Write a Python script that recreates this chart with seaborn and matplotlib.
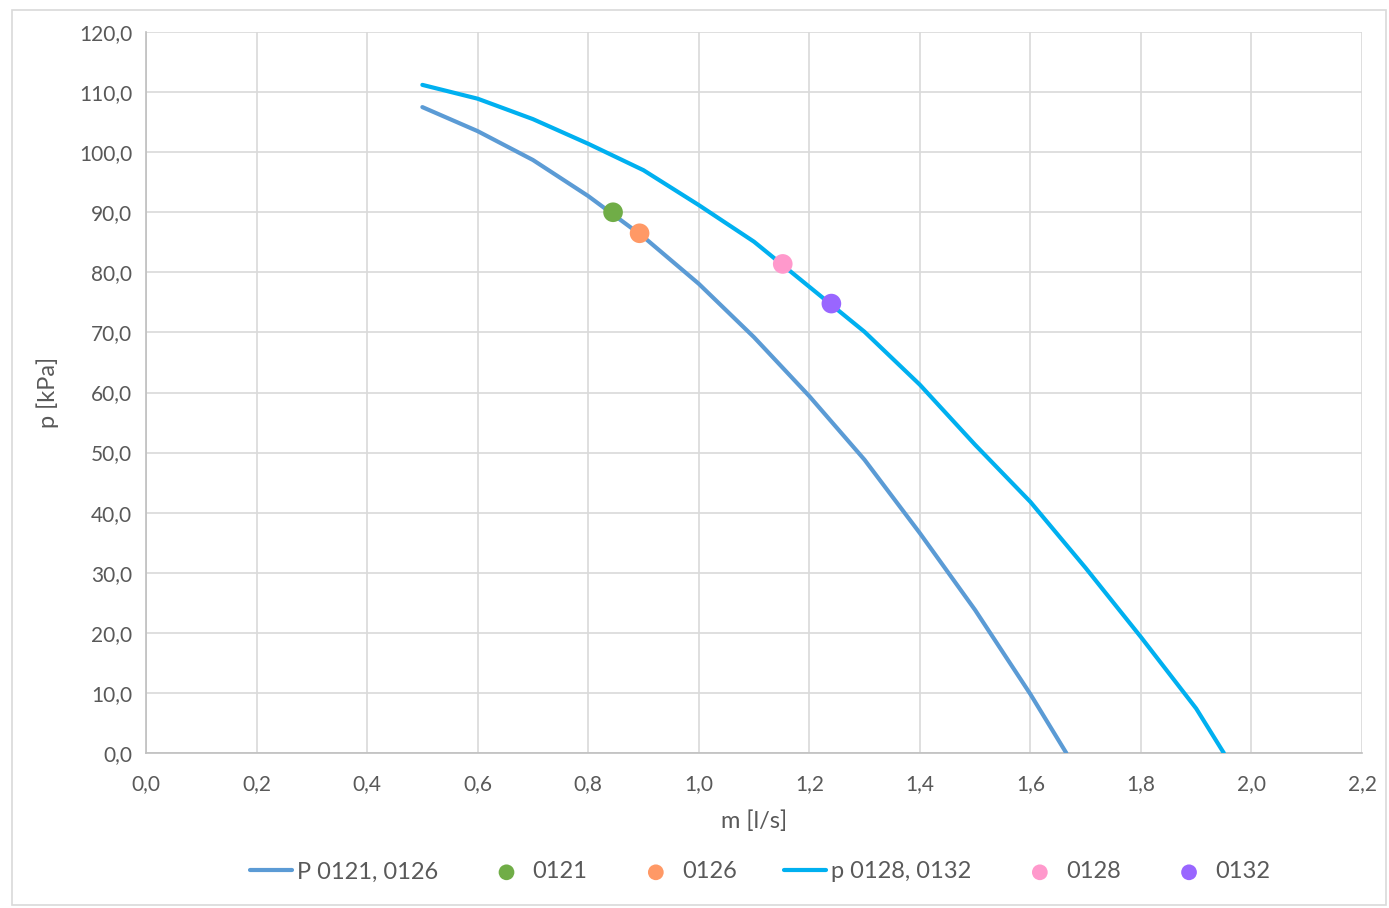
import matplotlib
matplotlib.use("Agg")
import matplotlib.pyplot as plt
import seaborn as sns
import pandas as pd
from matplotlib.ticker import FuncFormatter, MultipleLocator
from matplotlib.patches import Rectangle

sns.set_theme(style="white")
plt.rcParams['font.family'] = ['Lato', 'DejaVu Sans']

# Curve P 0121, 0126
m1 = [0.5, 0.6, 0.7, 0.8, 0.9, 1.0, 1.1, 1.2, 1.3, 1.4, 1.5, 1.6, 1.665]
p1 = [107.5, 103.5, 98.7, 92.7, 85.9, 78.1, 69.2, 59.4, 48.8, 36.6, 23.8, 9.8, 0.0]
# Curve p 0128, 0132
m2 = [0.5, 0.6, 0.7, 0.8, 0.9, 1.0, 1.1, 1.2, 1.3, 1.4, 1.5, 1.6, 1.7, 1.8, 1.9, 1.95]
p2 = [111.2, 108.9, 105.5, 101.4, 97.0, 91.2, 85.1, 77.6, 70.1, 61.3, 51.3, 41.8, 30.8, 19.3, 7.4, 0.0]
# Operating points
pt_labels = ["0121", "0126", "0128", "0132"]
pt_m = [0.845, 0.893, 1.152, 1.240]
pt_p = [90.0, 86.5, 81.4, 74.8]
pt_colors = ["#70AD47", "#FF9966", "#FF99CC", "#9966FF"]

line1_label = "P 0121, 0126"
line2_label = "p 0128, 0132"
line1_color = "#5B9BD5"
line2_color = "#00B0F0"

fig = plt.figure(figsize=(13.89, 9.08), dpi=100)
ax = fig.add_axes([146/1389, 1-753/908, (1362-146)/1389, (753-32)/908])

# outer chart border
fig.patches.append(Rectangle((12/1389, 1-905/908), (1386-12)/1389, (905-10)/908,
                             transform=fig.transFigure, fill=False,
                             edgecolor="#D9D9D9", linewidth=1.2, zorder=0))

d1 = pd.DataFrame({"m": m1, "p": p1})
d2 = pd.DataFrame({"m": m2, "p": p2})
sns.lineplot(data=d1, x="m", y="p", ax=ax, color=line1_color, linewidth=3,
             label=line1_label, sort=False, zorder=3)
sns.lineplot(data=d2, x="m", y="p", ax=ax, color=line2_color, linewidth=3,
             label=line2_label, sort=False, zorder=3)
for lab, x, y, c in zip(pt_labels, pt_m, pt_p, pt_colors):
    sns.scatterplot(x=[x], y=[y], ax=ax, color=c, s=200, edgecolor="none",
                    label=lab, zorder=4)

ax.set_xlim(0, 2.2)
ax.set_ylim(0, 120)
ax.xaxis.set_major_locator(MultipleLocator(0.2))
ax.yaxis.set_major_locator(MultipleLocator(10))
ax.xaxis.set_major_formatter(FuncFormatter(lambda v, _: f"{v:.1f}".replace(".", ",")))
ax.yaxis.set_major_formatter(FuncFormatter(lambda v, _: f"{v:.1f}".replace(".", ",")))
ax.grid(True, color="#D9D9D9", linewidth=1.2)
ax.set_axisbelow(True)
for s in ["top", "right"]:
    ax.spines[s].set_visible(False)
for s in ["left", "bottom"]:
    ax.spines[s].set_color("#BFBFBF")
    ax.spines[s].set_linewidth(1.2)
ax.tick_params(axis="both", colors="#595959", labelsize=15, length=0)
ax.tick_params(axis="x", pad=15)
ax.tick_params(axis="y", pad=10)
ax.set_xlabel("m [l/s]", fontsize=17, color="#595959", labelpad=12)
ax.set_ylabel("p [kPa]", fontsize=17, color="#595959", labelpad=14)

h, l = ax.get_legend_handles_labels()
order = [line1_label, "0121", "0126", line2_label, "0128", "0132"]
hmap = dict(zip(l, h))
ax.legend_.remove()
fig.legend([hmap[k] for k in order], order, loc="center", ncol=6,
           bbox_to_anchor=(0.547, 1-872/908), frameon=False, fontsize=17,
           labelcolor="#595959", handlelength=1.8, handletextpad=0.2,
           columnspacing=2.0, markerscale=0.8)

fig.savefig("out.png", dpi=100)
